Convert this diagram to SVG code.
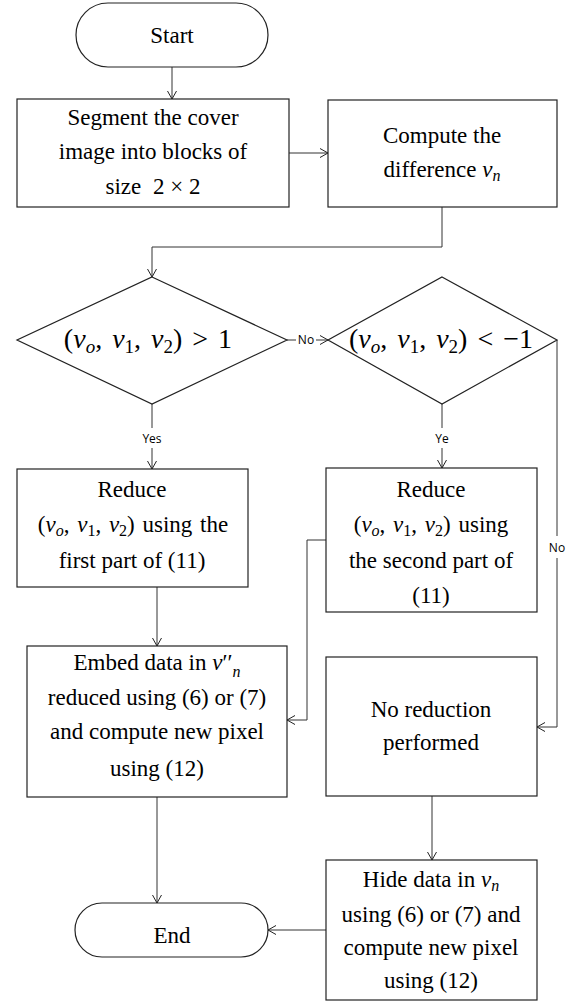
<svg xmlns="http://www.w3.org/2000/svg" width="574" height="1001" viewBox="0 0 574 1001">
<defs>
<marker id="arr" markerUnits="userSpaceOnUse" markerWidth="12" markerHeight="12" refX="9" refY="5" orient="auto">
<path d="M1,0.5 L9,5 L1,9.5" fill="none" stroke="#222" stroke-width="1"/>
</marker>
<style>
.shape{fill:#fff;stroke:#222;stroke-width:1.2}
.conn path{fill:none;stroke:#333;stroke-width:1}
.t{font-size:23px;fill:#000;text-anchor:middle}
.m{font-size:28px;fill:#000;text-anchor:middle;word-spacing:3px}
.w{word-spacing:2px}
.i{font-style:italic}
.s{font-size:16px}
.ms{font-size:19px}
.lbl{font-size:12px;fill:#000;text-anchor:middle}
</style>
</defs>
<rect width="574" height="1001" fill="#fff"/>

<g class="conn" id="connectors">
<path d="M172,67 V99" marker-end="url(#arr)"/>
<path d="M289,153 H328" marker-end="url(#arr)"/>
<path d="M442,207 V247 H152 V277" marker-end="url(#arr)"/>
<path d="M287,340 H296"/>
<path d="M316,340 H328" marker-end="url(#arr)"/>
<path d="M152,404 V428"/>
<path d="M152,448 V469" marker-end="url(#arr)"/>
<path d="M442,404 V428"/>
<path d="M442,448 V468" marker-end="url(#arr)"/>
<path d="M557,340 V536"/>
<path d="M557,558 V727 H537" marker-end="url(#arr)"/>
<path d="M326,540 H307 V720 H287" marker-end="url(#arr)"/>
<path d="M157,587 V646" marker-end="url(#arr)"/>
<path d="M157,797 V903" marker-end="url(#arr)"/>
<path d="M432,796 V860" marker-end="url(#arr)"/>
<path d="M326,930 H268" marker-end="url(#arr)"/>
<g font-family="'Open Sans', 'Liberation Sans', sans-serif">
<text class="lbl" x="306" y="344">No</text>
<text class="lbl" x="152" y="443">Yes</text>
<text class="lbl" x="442" y="443">Ye</text>
<text class="lbl" x="557" y="552">No</text>
</g>
</g>

<g font-family="'Liberation Serif', 'Times New Roman', serif">
<g id="start">
<rect class="shape" x="76" y="3" width="192" height="64" rx="32" ry="32"/>
<text class="t" x="172" y="43">Start</text>
</g>

<g id="segment">
<rect class="shape" x="17" y="99" width="272" height="108"/>
<text class="t" x="153" y="125">Segment the cover</text>
<text class="t" x="153" y="159">image into blocks of</text>
<text class="t" x="153" y="194">size <tspan dx="6">2 × 2</tspan></text>
</g>

<g id="compute">
<rect class="shape" x="328" y="100" width="229" height="107"/>
<text class="t" x="442" y="143">Compute the</text>
<text class="t" x="442" y="177">difference <tspan class="i">v</tspan><tspan class="s i" dy="4">n</tspan></text>
</g>

<g id="decision1">
<polygon class="shape" points="152,277 287,340 152,404 17,340"/>
<text class="m" x="148" y="348">(<tspan class="i">v</tspan><tspan class="ms i" dy="5">o</tspan><tspan dy="-5">, </tspan><tspan class="i">v</tspan><tspan class="ms" dy="5">1</tspan><tspan dy="-5">, </tspan><tspan class="i">v</tspan><tspan class="ms" dy="5">2</tspan><tspan dy="-5">) &gt; 1</tspan></text>
</g>

<g id="decision2">
<polygon class="shape" points="442,277 557,340 442,404 328,340"/>
<text class="m" x="441" y="348">(<tspan class="i">v</tspan><tspan class="ms i" dy="5">o</tspan><tspan dy="-5">, </tspan><tspan class="i">v</tspan><tspan class="ms" dy="5">1</tspan><tspan dy="-5">, </tspan><tspan class="i">v</tspan><tspan class="ms" dy="5">2</tspan><tspan dy="-5">) &lt; −1</tspan></text>
</g>

<g id="reduce1">
<rect class="shape" x="17" y="469" width="231" height="118"/>
<text class="t" x="132" y="497">Reduce</text>
<text class="t w" x="133" y="532">(<tspan class="i">v</tspan><tspan class="s i" dy="4">o</tspan><tspan dy="-4">, </tspan><tspan class="i">v</tspan><tspan class="s" dy="4">1</tspan><tspan dy="-4">, </tspan><tspan class="i">v</tspan><tspan class="s" dy="4">2</tspan><tspan dy="-4">) using the</tspan></text>
<text class="t" x="132" y="568">first part of (11)</text>
</g>

<g id="reduce2">
<rect class="shape" x="326" y="468" width="211" height="144"/>
<text class="t" x="431" y="497">Reduce</text>
<text class="t w" x="431" y="532">(<tspan class="i">v</tspan><tspan class="s i" dy="4">o</tspan><tspan dy="-4">, </tspan><tspan class="i">v</tspan><tspan class="s" dy="4">1</tspan><tspan dy="-4">, </tspan><tspan class="i">v</tspan><tspan class="s" dy="4">2</tspan><tspan dy="-4">) using</tspan></text>
<text class="t" x="431" y="568">the second part of</text>
<text class="t" x="431" y="603">(11)</text>
</g>

<g id="embed">
<rect class="shape" x="27" y="646" width="260" height="151"/>
<text class="t" x="157" y="670">Embed data in <tspan class="i">v</tspan>′′<tspan class="s i" dy="7">n</tspan></text>
<text class="t" x="157" y="705">reduced using (6) or (7)</text>
<text class="t" x="157" y="739">and compute new pixel</text>
<text class="t" x="157" y="776">using (12)</text>
</g>

<g id="noreduction">
<rect class="shape" x="326" y="657" width="211" height="139"/>
<text class="t" x="431" y="717">No reduction</text>
<text class="t" x="431" y="750">performed</text>
</g>

<g id="hide">
<rect class="shape" x="326" y="860" width="211" height="140"/>
<text class="t" x="431" y="887">Hide data in <tspan class="i">v</tspan><tspan class="s i" dy="4">n</tspan></text>
<text class="t" x="431" y="922">using (6) or (7) and</text>
<text class="t" x="431" y="955">compute new pixel</text>
<text class="t" x="431" y="988">using (12)</text>
</g>

<g id="end">
<rect class="shape" x="75" y="903" width="193" height="54" rx="27" ry="27"/>
<text class="t" x="172" y="943">End</text>
</g>
</g>
</svg>
